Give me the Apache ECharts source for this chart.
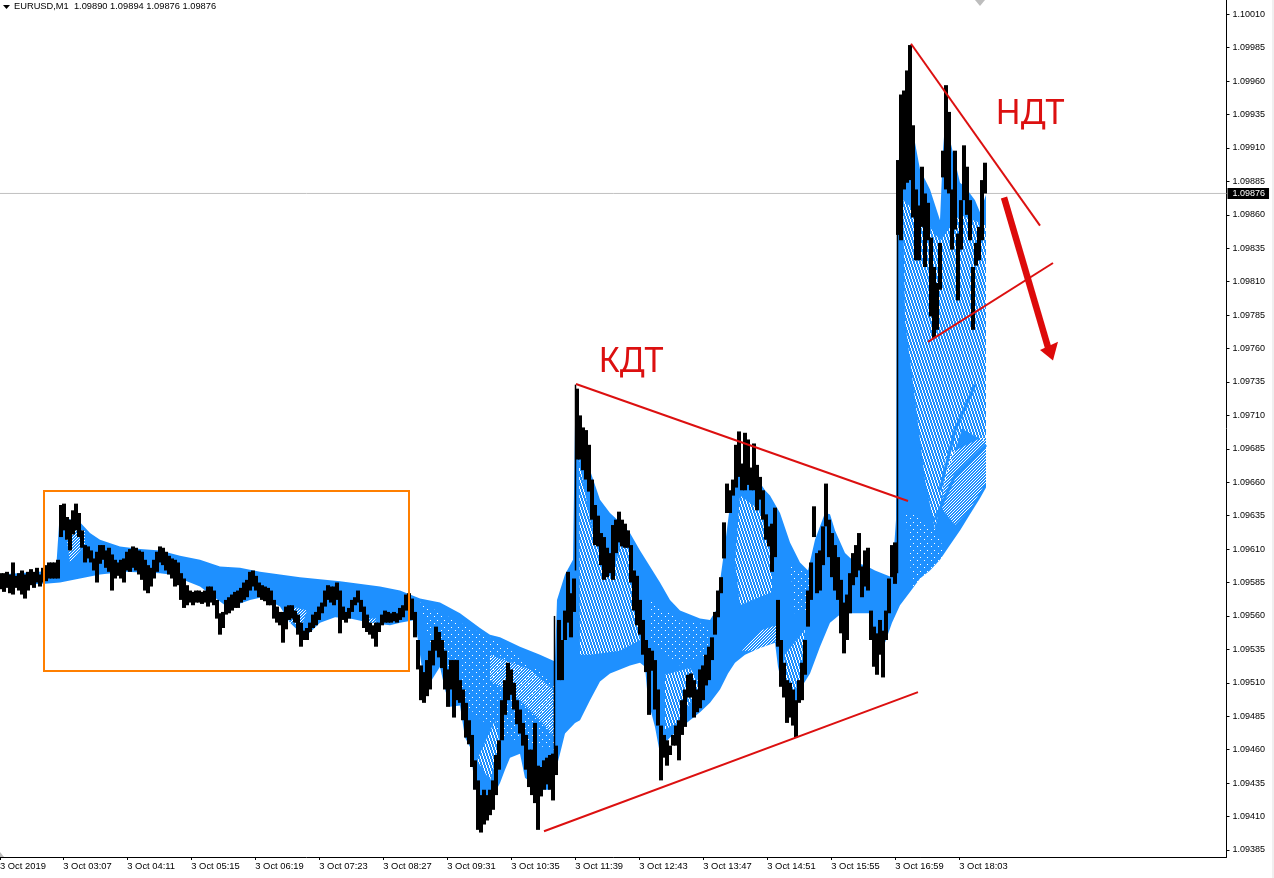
<!DOCTYPE html>
<html><head><meta charset="utf-8">
<style>html,body{margin:0;padding:0;background:#fff;overflow:hidden}#c{width:1274px;height:878px}</style>
<script src="https://cdn.jsdelivr.net/npm/echarts@6/dist/echarts.min.js"></script>
</head><body><div id="c"></div>
<script>
// All prices are points above 1.09000 (593 = 1.09593). X is the minute index of the chart window.
const priceBase = 1.09;
const yTicks = [1.09385,1.09410,1.09435,1.09460,1.09485,1.09510,1.09535,1.09560,1.09585,1.09610,1.09635,1.09660,1.09685,1.09710,1.09735,1.09760,1.09785,1.09810,1.09835,1.09860,1.09885,1.09910,1.09935,1.09960,1.09985,1.10010];
const xTicks = [0,63.3,127.3,191.3,255.3,319.3,383.3,447.3,511.3,575.3,639.3,703.3,767.3,831.3,895.3,959.3];
const xTickLabels = ['3 Oct 2019','3 Oct 03:07','3 Oct 04:11','3 Oct 05:15','3 Oct 06:19','3 Oct 07:23','3 Oct 08:27','3 Oct 09:31','3 Oct 10:35','3 Oct 11:39','3 Oct 12:43','3 Oct 13:47','3 Oct 14:51','3 Oct 15:55','3 Oct 16:59','3 Oct 18:03'];
const lastPrice = 1.09876;

const barFirst = 1, barStep = 3;
const barHigh = [
592,592,593,591,600,590,592,594,591,593,
595,593,596,591,596,598,600,600,600,602,
643,644,634,632,639,644,637,624,613,612,
609,603,608,613,613,609,611,606,602,600,
602,603,608,610,612,611,609,608,602,598,
596,602,608,612,611,608,605,603,602,600,
592,588,583,579,578,579,579,578,579,582,
582,579,572,562,563,572,574,576,578,579,
581,585,587,593,594,590,585,583,582,581,
579,572,567,563,563,567,568,568,564,561,
555,549,551,555,561,563,567,570,579,583,
582,582,585,579,567,563,566,572,574,579,
572,567,561,555,553,555,555,561,564,563,
562,563,562,566,568,576,577,573,563,542,
523,518,527,534,542,552,548,542,534,520,
527,527,527,512,505,495,482,471,452,437,
426,430,426,430,437,456,467,497,512,525,
520,510,497,490,480,471,460,460,480,448,
447,452,454,456,457,463,557,542,564,593,
577,588,730,710,701,699,688,662,643,635,
622,619,611,607,628,632,638,632,629,624,
613,594,590,572,557,542,536,534,527,505,
478,471,467,463,471,478,482,497,505,516,
517,512,505,520,523,531,537,544,563,579,
589,630,659,654,662,688,698,674,697,692,
671,689,673,664,654,636,627,629,641,572,
542,525,512,510,505,497,512,525,542,579,
600,642,607,609,627,659,632,622,613,604,
587,570,576,592,607,613,622,597,609,611,
564,552,547,557,549,564,588,613,615,901,
950,953,968,987,927,879,867,896,876,869,
843,821,809,839,908,957,937,879,908,846,
871,912,896,871,821,839,851,886,899];
const barLow = [
580,578,581,577,576,581,579,576,573,579,
583,581,585,582,585,586,588,588,588,588,
619,624,617,609,621,624,619,611,600,603,
600,594,585,599,602,596,593,579,588,590,
588,585,594,593,596,594,591,587,579,577,
582,588,593,600,598,594,591,588,582,583,
572,566,568,570,568,570,570,569,570,567,
570,568,558,546,551,561,562,564,566,566,
570,572,574,579,582,579,574,572,571,568,
568,558,555,553,540,550,557,558,555,546,
537,542,542,548,551,553,557,562,567,572,
570,568,572,547,557,555,558,563,568,570,
563,551,548,546,543,537,548,553,555,555,
555,556,555,557,559,564,567,557,544,520,
497,495,500,505,523,534,529,521,505,492,
505,484,497,495,482,469,464,447,430,400,
398,404,407,411,415,426,445,467,486,497,
501,490,479,472,463,445,432,426,420,400,
425,430,434,430,422,441,512,512,542,555,
544,563,677,677,669,662,653,632,613,612,
598,587,589,592,587,607,615,612,611,611,
585,564,553,546,531,518,486,519,490,478,
437,454,448,456,463,463,452,471,477,499,
499,484,488,491,497,508,512,527,546,559,
577,603,637,637,650,656,664,654,654,658,
654,654,639,647,632,617,612,593,604,537,
507,499,480,484,478,469,495,497,516,552,
572,619,577,579,598,627,604,589,579,572,
547,532,542,562,583,589,594,574,582,579,
542,522,516,531,514,542,562,589,584,845,
841,879,884,886,858,826,826,851,821,841,
784,768,774,804,888,879,876,834,849,796,
834,871,860,841,774,822,826,841,876];
// single-minute jump bars: [minute, high, low]
const jumpBars = [[554.5,560,452],[575.5,733,594],[897.5,880,592]];

const ribbonTopX = [0,56,59,66,80,90,100,120,140,160,180,200,220,240,260,300,340,380,400,420,440,460,480,490,500,520,540,555,557,565,573,575,580,590,600,610,620,630,640,650,660,670,680,690,700,710,716,725,730,737,745,755,765,770,780,790,800,808,815,825,830,835,845,855,865,875,885,892,896,897,902,908,912,920,930,940,943,945,950,960,965,975,980,986];
const ribbonTop  = [591,594,628,633,630,622,617,612,610,609,605,602,597,596,593,589,586,582,579,573,570,562,551,546,544,537,531,526,572,591,602,703,690,669,647,637,630,622,609,597,585,572,564,561,558,557,564,613,643,673,674,665,654,650,637,615,600,594,617,637,636,624,607,600,598,594,591,589,632,879,938,951,926,894,879,856,908,929,916,884,881,871,862,875];
const ribbonBottomX = [0,45,60,80,100,125,160,170,200,225,235,250,262,280,290,305,320,335,350,370,390,400,415,425,430,440,445,450,460,465,470,475,480,490,495,500,505,510,520,525,540,550,553,560,565,575,580,590,600,610,620,630,640,645,648,655,660,665,670,680,690,700,710,720,728,735,745,760,775,778,783,790,797,800,810,820,830,840,850,870,875,880,885,892,900,910,920,930,940,950,960,970,980,986];
const ribbonBottom  = [583,584,585,588,591,593,592,591,582,568,568,572,574,567,555,544,555,559,558,555,553,555,557,505,510,522,505,492,493,469,462,432,422,413,428,435,445,454,457,439,430,430,437,457,472,480,482,497,511,517,520,523,525,522,497,477,457,465,469,476,482,488,495,505,517,525,531,536,540,522,505,492,495,505,517,537,555,561,562,562,542,532,540,555,568,578,588,594,602,613,624,636,648,656];

// Places where the fan of averages opens up and lets the background through: [minute, price] corners.
const stripeBands = [
 [[903,871],[920,860],[940,841],[960,860],[986,852],[986,690],[962,700],[945,660],[935,625],[925,662],[915,722],[905,781]],
 [[579,677],[590,632],[605,594],[617,602],[625,632],[640,564],[640,542],[620,534],[590,531],[580,531]],
 [[665,516],[690,521],[700,509],[680,481],[665,475]],
 [[740,650],[760,639],[772,601],[772,578],[740,568],[735,601]],
 [[785,531],[805,550],[800,512],[790,497],[782,505]],
 [[477,452],[495,482],[500,463],[490,437]]
];
const checkBands = [
 [[945,680],[986,695],[986,660],[970,640],[955,628],[942,640]],
 [[490,531],[530,520],[553,505],[553,471],[540,482],[520,497],[505,505],[490,512]],
 [[742,534],[760,549],[776,553],[776,541],[755,534]],
 [[287,568],[307,564],[302,553],[290,555]],
 [[65,627],[85,624],[85,613],[70,600]],
 [[363,558],[377,558],[372,550],[366,550]]
];
const dotBands = [
 [[440,542],[465,534],[480,497],[465,497],[448,527]],
 [[650,572],[680,557],[710,553],[708,531],[680,523],[650,542]],
 [[790,598],[815,590],[810,564],[795,561]],
 [[420,570],[500,540],[555,510],[555,460],[500,470],[470,490],[430,540]],
 [[905,640],[935,625],[950,600],[915,560]]
];
// Closely packed averages that show as solid blue ribs through the striped zone.
const ribs = [
 [[986,688],[955,665],[935,632]],
 [[975,733],[955,699],[940,654]]
];

const trendLines = [
 [[576,733.5],[908,646]],
 [[544,399],[918,503]],
 [[911,988],[1040,852]],
 [[928,765],[1053,824]]
];
const arrowShaft = [[1004,873],[1048,761]];
const arrowHead = [[1053,751],[1040,759],[1058,765]];
const orangeBox = [44,653.4,409,518.8];
const notes = [{t:'КДТ',x:631,p:750},{t:'НДТ',x:1030,p:935}];

const toPrice = p => priceBase + p/100000;
const barX = i => barFirst + i*barStep;

function pattern(w,h,pixels){
  const c=document.createElement('canvas');c.width=w;c.height=h;
  const g=c.getContext('2d');g.fillStyle='#fff';
  pixels.forEach(p=>g.fillRect(p[0],p[1],1,1));
  return {image:c,repeat:'repeat'};
}
const stripePat = pattern(3,9,[[0,0],[0,1],[0,2],[1,3],[1,4],[1,5],[2,6],[2,7],[2,8]]);
const checkPat  = pattern(3,3,[[0,0],[2,1],[1,2]]);
const dotPat    = pattern(7,7,[[0,0],[3,4]]);
const BLUE='#1E90FF', RED='#DC1010';

function polyItem(pts,api,style){
  return {type:'polygon',shape:{points:pts.map(q=>api.coord([q[0],toPrice(q[1])]))},style:style,silent:true};
}
function bandSeries(list,fill,z){
  return {type:'custom',z:z,silent:true,coordinateSystem:'cartesian2d',data:list.map((_,i)=>[i]),
    renderItem:(p,api)=>polyItem(list[p.dataIndex],api,{fill:fill})};
}
const chart=echarts.init(document.getElementById('c'),null,{renderer:'canvas'});
const ribbonPoly=[];
ribbonTopX.forEach((x,i)=>ribbonPoly.push([x,ribbonTop[i]]));
for(let i=ribbonBottomX.length-1;i>=0;i--)ribbonPoly.push([ribbonBottomX[i],ribbonBottom[i]]);

chart.setOption({
  animation:false,
  backgroundColor:'#fff',
  grid:{left:0,top:0,width:1226.5,height:857,containLabel:false,outerBoundsMode:'none'},
  xAxis:{type:'value',min:0,max:1226.5,splitLine:{show:false},
    axisLine:{show:true,onZero:false,lineStyle:{color:'#000',width:1}},
    axisTick:{show:true,length:3,lineStyle:{color:'#000'},customValues:xTicks},
    axisLabel:{show:true,customValues:xTicks,align:'left',margin:5,color:'#000',fontFamily:'Liberation Sans',fontSize:9.4,
      formatter:v=>{const i=xTicks.indexOf(v);return i<0?'':xTickLabels[i];}}},
  yAxis:{type:'value',position:'right',min:1.093797,max:1.100207,scale:true,splitLine:{show:false},
    axisLine:{show:true,onZero:false,lineStyle:{color:'#000',width:1}},
    axisTick:{show:true,length:3,lineStyle:{color:'#000'},customValues:yTicks},
    axisLabel:{show:true,customValues:yTicks,margin:6,color:'#000',fontFamily:'Liberation Sans',fontSize:9,formatter:v=>v.toFixed(5)}},
  series:[
    {type:'line',z:1,silent:true,clip:false,symbol:'none',data:[[0,lastPrice],[1226.5,lastPrice]],lineStyle:{color:'#c0c0c0',width:1},
      endLabel:{show:true,formatter:lastPrice.toFixed(5),color:'#fff',backgroundColor:'#000',padding:[1,4,1,5],distance:1,fontFamily:'Liberation Sans',fontSize:9}},
    {type:'custom',z:2,silent:true,data:[[0]],renderItem:(p,api)=>polyItem(ribbonPoly,api,{fill:BLUE})},
    bandSeries(stripeBands,stripePat,3),
    bandSeries(checkBands,checkPat,3),
    bandSeries(dotBands,dotPat,3),
    {type:'custom',z:4,silent:true,data:ribs.map((_,i)=>[i]),renderItem:(p,api)=>({type:'polyline',
      shape:{points:ribs[p.dataIndex].map(q=>api.coord([q[0],toPrice(q[1])]))},style:{stroke:BLUE,lineWidth:3,fill:null},silent:true})},
    {type:'custom',z:5,silent:true,data:barHigh.map((h,i)=>[barX(i),toPrice(h),toPrice(barLow[i])]),
      encode:{x:0,y:[1,2]},
      renderItem:(p,api)=>{const a=api.coord([api.value(0),api.value(1)]),b=api.coord([api.value(0),api.value(2)]);
        return {type:'rect',shape:{x:a[0]-2,y:a[1],width:4,height:b[1]-a[1]},style:{fill:'#000'},silent:true};}},
    {type:'custom',z:5,silent:true,data:jumpBars.map(b=>[b[0],toPrice(b[1]),toPrice(b[2])]),
      renderItem:(p,api)=>{const a=api.coord([api.value(0),api.value(1)]),b=api.coord([api.value(0),api.value(2)]);
        return {type:'rect',shape:{x:a[0]-0.75,y:a[1],width:1.5,height:b[1]-a[1]},style:{fill:'#000'},silent:true};}},
    {type:'custom',z:6,silent:true,clip:false,data:[[0]],renderItem:(p,api)=>{
      const a=api.coord([orangeBox[0],toPrice(orangeBox[1])]),b=api.coord([orangeBox[2],toPrice(orangeBox[3])]);
      return {type:'rect',shape:{x:a[0],y:a[1],width:b[0]-a[0],height:b[1]-a[1]},style:{fill:null,stroke:'#FF7F00',lineWidth:2},silent:true};}},
    {type:'custom',z:6,silent:true,data:trendLines.map((_,i)=>[i]),renderItem:(p,api)=>{
      const l=trendLines[p.dataIndex],a=api.coord([l[0][0],toPrice(l[0][1])]),b=api.coord([l[1][0],toPrice(l[1][1])]);
      return {type:'line',shape:{x1:a[0],y1:a[1],x2:b[0],y2:b[1]},style:{stroke:RED,lineWidth:2},silent:true};}},
    {type:'custom',z:6,silent:true,data:[[0]],renderItem:(p,api)=>{
      const a=api.coord([arrowShaft[0][0],toPrice(arrowShaft[0][1])]),b=api.coord([arrowShaft[1][0],toPrice(arrowShaft[1][1])]);
      return {type:'group',children:[
        {type:'line',shape:{x1:a[0],y1:a[1],x2:b[0],y2:b[1]},style:{stroke:'#DD0A0A',lineWidth:6.5},silent:true},
        polyItem(arrowHead,api,{fill:'#DD0A0A'})]};}},
    {type:'custom',z:7,silent:true,data:notes.map((_,i)=>[i]),renderItem:(p,api)=>{
      const n=notes[p.dataIndex],a=api.coord([n.x,toPrice(n.p)]);
      return {type:'text',x:a[0],y:a[1],style:{text:n.t,fill:'#DC1010',font:'34px "Noto Sans"',textAlign:'center',textVerticalAlign:'middle'},silent:true};}}
  ],
  graphic:[
    {type:'polygon',shape:{points:[[3,5],[10,5],[6.5,9]]},style:{fill:'#000'},silent:true},
    {type:'text',left:14,top:2,style:{text:'EURUSD,M1  1.09890 1.09894 1.09876 1.09876',fill:'#000',font:'9.3px "Liberation Sans"'},silent:true},
    {type:'polygon',shape:{points:[[975,0],[985,0],[980,6]]},style:{fill:'#bdbdbd'},silent:true},
    {type:'polygon',shape:{points:[[0,852],[4,857],[0,857]]},style:{fill:'#bdbdbd'},silent:true},
    {type:'rect',shape:{x:1272,y:0,width:2,height:878},style:{fill:'#f0f0f0'},silent:true}
  ]
});
</script></body></html>
